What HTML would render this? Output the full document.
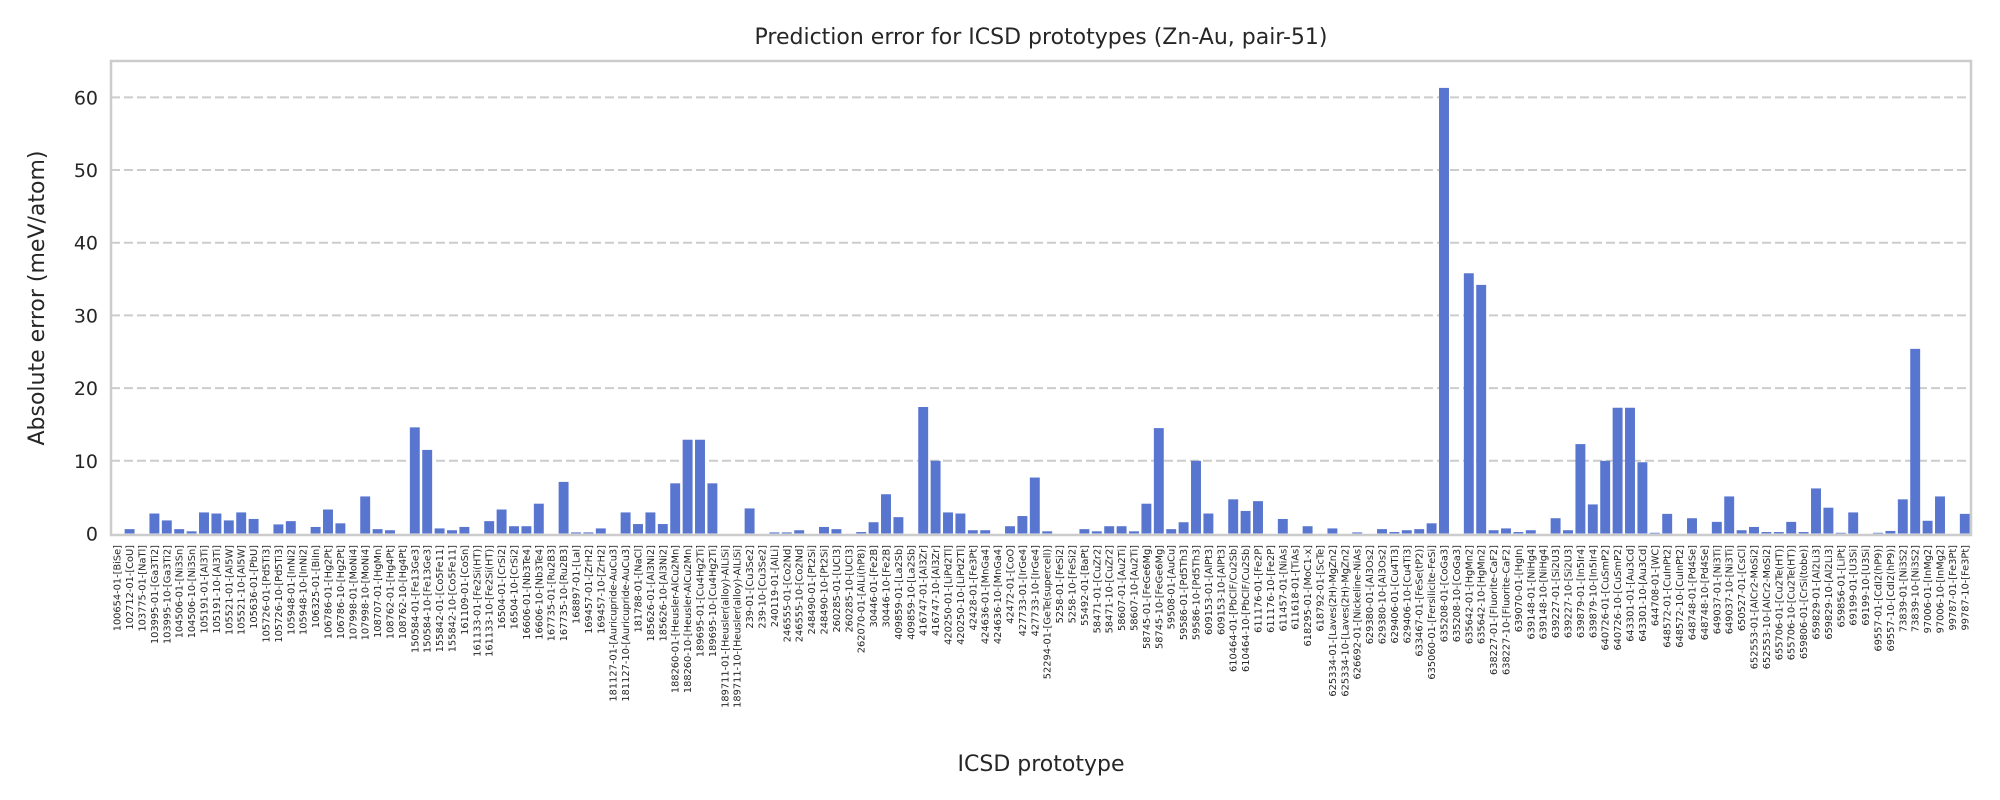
<!DOCTYPE html>
<html><head><meta charset="utf-8"><style>
html,body{margin:0;padding:0;background:#fff;}
svg{display:block;font-family:"DejaVu Sans","Liberation Sans",sans-serif;}
</style></head><body>
<svg id="chart" width="2000" height="800" viewBox="0 0 2000 800" xmlns="http://www.w3.org/2000/svg">
<text x="1041" y="44" font-size="22" text-anchor="middle" fill="#262626">Prediction error for ICSD prototypes (Zn-Au, pair-51)</text>
<g id="grid"></g>
<g id="bars"></g>
<rect x="111" y="61" width="1860" height="474" fill="none" stroke="#cccccc" stroke-width="2.5"/>
<g id="yticks"></g>
<g id="xticks"></g>
<text transform="translate(44,298) rotate(-90)" font-size="22" text-anchor="middle" fill="#262626">Absolute error (meV/atom)</text>
<text x="1041" y="771" font-size="22" text-anchor="middle" fill="#262626">ICSD prototype</text>
</svg>
<script>
const categories = ["100654-01-[BiSe]","102712-01-[CoU]","103775-01-[NaTl]","103995-01-[Ga3Ti2]","103995-10-[Ga3Ti2]","104506-01-[Ni3Sn]","104506-10-[Ni3Sn]","105191-01-[Al3Ti]","105191-10-[Al3Ti]","105521-01-[Al5W]","105521-10-[Al5W]","105636-01-[PbU]","105726-01-[Pd5Ti3]","105726-10-[Pd5Ti3]","105948-01-[InNi2]","105948-10-[InNi2]","106325-01-[BiIn]","106786-01-[Hg2Pt]","106786-10-[Hg2Pt]","107998-01-[MoNi4]","107998-10-[MoNi4]","108707-01-[HgMn]","108762-01-[Hg4Pt]","108762-10-[Hg4Pt]","150584-01-[Fe13Ge3]","150584-10-[Fe13Ge3]","155842-01-[Co5Fe11]","155842-10-[Co5Fe11]","161109-01-[CoSn]","161133-01-[Fe2Si(HT)]","161133-10-[Fe2Si(HT)]","16504-01-[CrSi2]","16504-10-[CrSi2]","16606-01-[Nb3Te4]","16606-10-[Nb3Te4]","167735-01-[Ru2B3]","167735-10-[Ru2B3]","168897-01-[LaI]","169457-01-[ZrH2]","169457-10-[ZrH2]","181127-01-[Auricupride-AuCu3]","181127-10-[Auricupride-AuCu3]","181788-01-[NaCl]","185626-01-[Al3Ni2]","185626-10-[Al3Ni2]","188260-01-[Heusler-AlCu2Mn]","188260-10-[Heusler-AlCu2Mn]","189695-01-[Cu4Hg2Ti]","189695-10-[Cu4Hg2Ti]","189711-01-[Heusler(alloy)-AlLiSi]","189711-10-[Heusler(alloy)-AlLiSi]","239-01-[Cu3Se2]","239-10-[Cu3Se2]","240119-01-[AlLi]","246555-01-[Co2Nd]","246555-10-[Co2Nd]","248490-01-[Pt2Si]","248490-10-[Pt2Si]","260285-01-[UCl3]","260285-10-[UCl3]","262070-01-[AlLi(hP8)]","30446-01-[Fe2B]","30446-10-[Fe2B]","409859-01-[La2Sb]","409859-10-[La2Sb]","416747-01-[Al3Zr]","416747-10-[Al3Zr]","420250-01-[LiPd2Tl]","420250-10-[LiPd2Tl]","42428-01-[Fe3Pt]","424636-01-[MnGa4]","424636-10-[MnGa4]","42472-01-[CoO]","427733-01-[IrGe4]","427733-10-[IrGe4]","52294-01-[GeTe(supercell)]","5258-01-[FeSi2]","5258-10-[FeSi2]","55492-01-[BaPt]","58471-01-[CuZr2]","58471-10-[CuZr2]","58607-01-[Au2Ti]","58607-10-[Au2Ti]","58745-01-[FeGe6Mg]","58745-10-[FeGe6Mg]","59508-01-[AuCu]","59586-01-[Pd5Th3]","59586-10-[Pd5Th3]","609153-01-[AlPt3]","609153-10-[AlPt3]","610464-01-[PbClF/Cu2Sb]","610464-10-[PbClF/Cu2Sb]","611176-01-[Fe2P]","611176-10-[Fe2P]","611457-01-[NiAs]","611618-01-[TiAs]","618295-01-[MoC1-x]","618792-01-[ScTe]","625334-01-[Laves(2H)-MgZn2]","625334-10-[Laves(2H)-MgZn2]","626692-01-[Nickeline-NiAs]","629380-01-[Al3Os2]","629380-10-[Al3Os2]","629406-01-[Cu4Ti3]","629406-10-[Cu4Ti3]","633467-01-[FeSe(tP2)]","635060-01-[Fersilicite-FeSi]","635208-01-[CoGa3]","635208-10-[CoGa3]","635642-01-[HgMn2]","635642-10-[HgMn2]","638227-01-[Fluorite-CaF2]","638227-10-[Fluorite-CaF2]","639070-01-[HgIn]","639148-01-[NiHg4]","639148-10-[NiHg4]","639227-01-[Si2U3]","639227-10-[Si2U3]","639879-01-[In5Ir4]","639879-10-[In5Ir4]","640726-01-[CuSmP2]","640726-10-[CuSmP2]","643301-01-[Au3Cd]","643301-10-[Au3Cd]","644708-01-[WC]","648572-01-[CuInPt2]","648572-10-[CuInPt2]","648748-01-[Pd4Se]","648748-10-[Pd4Se]","649037-01-[Ni3Ti]","649037-10-[Ni3Ti]","650527-01-[CsCl]","652553-01-[AlCr2-MoSi2]","652553-10-[AlCr2-MoSi2]","655706-01-[Cu2Te(HT)]","655706-10-[Cu2Te(HT)]","659806-01-[CrSi(tobe)]","659829-01-[Al2Li3]","659829-10-[Al2Li3]","659856-01-[LiPt]","69199-01-[U3Si]","69199-10-[U3Si]","69557-01-[CdI2(hP9)]","69557-10-[CdI2(hP9)]","73839-01-[Ni3S2]","73839-10-[Ni3S2]","97006-01-[InMg2]","97006-10-[InMg2]","99787-01-[Fe3Pt]","99787-10-[Fe3Pt]"];
const errors = [0,0.6,0,2.75,1.8,0.6,0.3,2.9,2.75,1.8,2.9,2.0,0,1.25,1.7,0,0.9,3.3,1.4,0,5.1,0.6,0.45,0,14.6,11.5,0.7,0.45,0.9,0,1.7,3.3,1.0,1.0,4.1,0,7.1,0.15,0.15,0.7,0,2.9,1.3,2.9,1.3,6.9,12.9,12.9,6.9,0,0,3.45,0,0.15,0.15,0.45,0,0.9,0.6,0,0.2,1.55,5.4,2.25,0,17.4,10.0,2.9,2.75,0.45,0.45,0,1.0,2.4,7.7,0.3,0,0,0.6,0.3,1.0,1.0,0.3,4.1,14.5,0.6,1.55,10.0,2.75,0,4.7,3.1,4.45,0,2.0,0,1.0,0,0.7,0,0.15,0,0.6,0.2,0.45,0.6,1.4,61.3,0,35.8,34.2,0.45,0.7,0.2,0.45,0,2.1,0.45,12.3,4.0,10.0,17.3,17.3,9.8,0.1,2.7,0,2.1,0,1.6,5.1,0.45,0.9,0.2,0.2,1.6,0.2,6.2,3.55,0.1,2.9,0,0.1,0.35,4.7,25.4,1.75,5.1,0,2.7];
const yTicks = [0,10,20,30,40,50,60];

const NS = "http://www.w3.org/2000/svg";
const plotL = 111, plotR = 1971, plotT = 61, plotB = 535;
const yMin = 0, yMax = 65;
const y0px = 533.5;
const slot = (plotR - plotL) / categories.length;
function xScale(i){ return plotL + slot * (i + 0.5); }
function yScale(v){ return y0px - (v - yMin) * (y0px - plotT) / (yMax - yMin); }

const grid = document.getElementById('grid');
const yt = document.getElementById('yticks');
yTicks.forEach(t => {
  const y = yScale(t);
  if (t > 0) {
    const l = document.createElementNS(NS, 'line');
    
    
    l.setAttribute('x1', plotL); l.setAttribute('x2', plotR);
    l.setAttribute('y1', y); l.setAttribute('y2', y);
    l.setAttribute('stroke', '#cccccc'); l.setAttribute('stroke-width', '2');
    l.setAttribute('stroke-dasharray', '9,4');
    grid.appendChild(l);
  }
  const tx = document.createElementNS(NS, 'text');
  
  
  tx.setAttribute('x', 98); tx.setAttribute('y', y + 7);
  tx.setAttribute('font-size', '19'); tx.setAttribute('text-anchor', 'end');
  tx.setAttribute('fill', '#262626');
  tx.textContent = t;
  yt.appendChild(tx);
});

const bars = document.getElementById('bars');
const xt = document.getElementById('xticks');
const bw = slot * 0.8;
categories.forEach((c, i) => {
  const v = errors[i];
  const r = document.createElementNS(NS, 'rect');
  
  
  r.setAttribute('x', xScale(i) - bw / 2);
  r.setAttribute('width', bw);
  r.setAttribute('y', yScale(v));
  r.setAttribute('height', Math.max(0, y0px - yScale(v)));
  r.setAttribute('fill', '#5875cf');
  bars.appendChild(r);
  const tx = document.createElementNS(NS, 'text');
  
  
  const x = xScale(i) + 3.5;
  tx.setAttribute('transform', 'translate(' + x + ',545) rotate(-90)');
  tx.setAttribute('font-size', '9.8'); tx.setAttribute('text-anchor', 'end');
  tx.setAttribute('fill', '#262626');
  tx.textContent = c;
  xt.appendChild(tx);
});
</script>
</body></html>
